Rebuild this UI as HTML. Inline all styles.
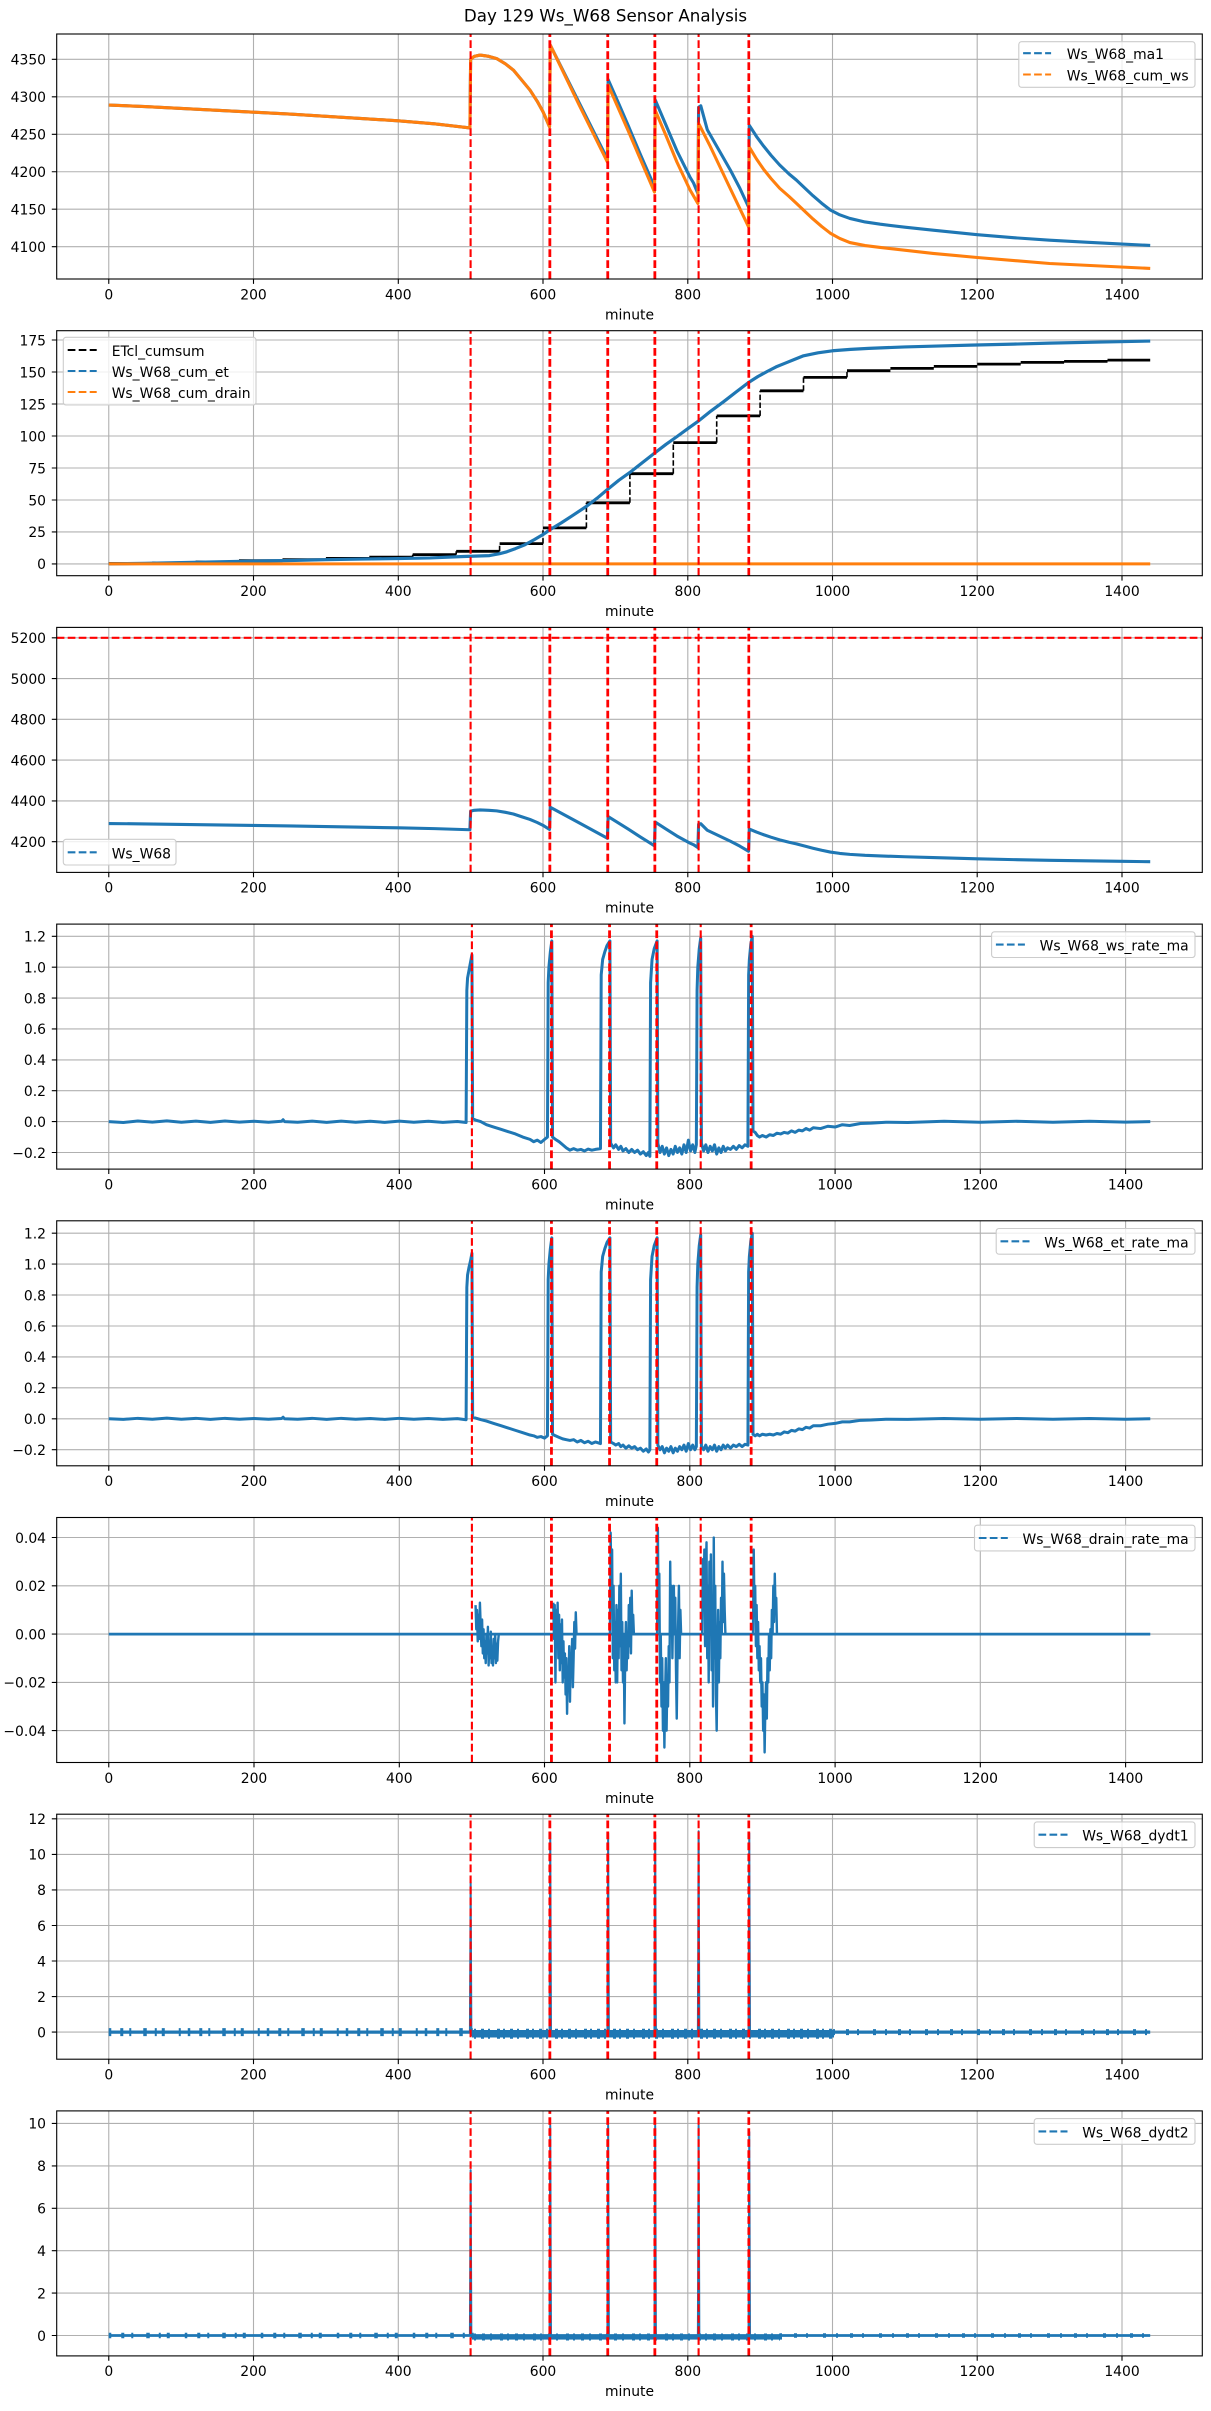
<!DOCTYPE html>
<html><head><meta charset="utf-8"><style>
html,body{margin:0;padding:0;background:#fff;}
svg{display:block}
text{font-family:"DejaVu Sans","Liberation Sans",sans-serif;font-size:13.9px;fill:#000}
.grid{stroke:#b0b0b0;stroke-width:1.1;fill:none}
.frame{fill:none;stroke:#000;stroke-width:1.1}
.tk{stroke:#000;stroke-width:1.1;fill:none}
.rv{stroke:#ff0000;stroke-width:2.1;stroke-dasharray:7.7 3.3;fill:none}
.yl{text-anchor:end}
.xl{text-anchor:middle}
.lg{fill:#fff;fill-opacity:.8;stroke:#cccccc;stroke-width:1.1}
.lh{stroke-width:2.1;stroke-dasharray:7.7 3.3;fill:none}
</style></head><body>
<svg width="1211" height="2411" viewBox="0 0 1211 2411" xmlns="http://www.w3.org/2000/svg">
<rect x="0" y="0" width="1211" height="2411" fill="#fff"/>
<text x="605.5" y="21.7" style="font-size:16.7px" text-anchor="middle">Day 129 Ws_W68 Sensor Analysis</text>

<!-- ========== PANEL 1 ========== -->
<path class="grid" d="M108.77 34V279M253.5 34V279M398.3 34V279M543 34V279M687.8 34V279M832.5 34V279M977.2 34V279M1122 34V279M56.7 246.7H1202.3M56.7 209.2H1202.3M56.7 171.75H1202.3M56.7 134.3H1202.3M56.7 96.8H1202.3M56.7 59.3H1202.3"/>
<g transform="matrix(0.72373 0 0 -0.7495 108.77 3319.65)">
<path vector-effect="non-scaling-stroke" fill="none" stroke="#1f77b4" stroke-width="3.1" stroke-linejoin="round" d="M0 4289 L50 4287 L100 4284.5 L150 4282 L200 4279.5 L250 4277 L300 4274 L350 4271 L400 4268 L450 4264 L499 4258.5 L500 4350 L505 4354 L513 4355.7 L525 4354 L536 4351 L548 4344 L559 4335.7 L570 4323 L582 4309 L592 4294 L600 4280 L609 4260 L610 4369 L650 4292 L689 4217 L690 4323 L705 4290 L718 4261 L735 4222 L745 4200 L754 4180 L755 4296 L770 4262 L785 4228 L803 4193 L808 4185 L814 4171 L815 4286 L818 4288 L827 4256 L843 4229 L859 4202 L872 4178 L884 4153 L885 4262 L895 4247 L905 4234 L915 4222 L927 4209 L940 4197 L950 4189 L962 4178 L973 4168 L985 4158 L997 4149 L1010 4142.5 L1024 4137.7 L1045 4133 L1066 4130 L1100 4126 L1139 4122 L1200 4116 L1250 4112 L1300 4108.7 L1350 4106 L1400 4103.5 L1439 4101.7"/>
<path vector-effect="non-scaling-stroke" fill="none" stroke="#ff7f0e" stroke-width="3.1" stroke-linejoin="round" d="M0 4289 L50 4287 L100 4284.5 L150 4282 L200 4279.5 L250 4277 L300 4274 L350 4271 L400 4268 L450 4264 L499 4258.5 L500 4350 L505 4354 L513 4355.7 L525 4354 L536 4351 L548 4344 L559 4335.7 L570 4323 L582 4309 L592 4294 L600 4280 L609 4260 L610 4369 L650 4289 L689 4213 L690 4315.7 L718 4254 L754 4173 L755 4282 L770 4248 L785 4213 L803 4176 L814 4157.7 L815 4264.5 L830 4236 L859 4177 L884 4126.5 L885 4233 L895 4217 L905 4203 L915 4191 L927 4178 L940 4167 L950 4158 L962 4147 L973 4137 L985 4127 L997 4118 L1010 4111 L1024 4105.5 L1045 4101.5 L1066 4099 L1139 4091 L1200 4085.6 L1300 4077.6 L1439 4071"/>
</g>
<path class="rv" d="M470.6 279V34M549.5 279V34M550.2 279V34M607.4 279V34M608.1 279V34M654.5 279V34M655.2 279V34M698.6 279V34M748.5 279V34M749.1 279V34"/>
<rect class="frame" x="56.7" y="34" width="1145.6" height="245"/>
<path class="tk" d="M108.77 279v4.9M253.5 279v4.9M398.3 279v4.9M543 279v4.9M687.8 279v4.9M832.5 279v4.9M977.2 279v4.9M1122 279v4.9M56.7 246.7h-4.9M56.7 209.2h-4.9M56.7 171.75h-4.9M56.7 134.3h-4.9M56.7 96.8h-4.9M56.7 59.3h-4.9"/>
<g class="yl"><text x="46" y="252">4100</text><text x="46" y="214.5">4150</text><text x="46" y="177">4200</text><text x="46" y="139.6">4250</text><text x="46" y="102.1">4300</text><text x="46" y="64.6">4350</text></g>
<g class="xl"><text x="108.77" y="299.3">0</text><text x="253.5" y="299.3">200</text><text x="398.3" y="299.3">400</text><text x="543" y="299.3">600</text><text x="687.8" y="299.3">800</text><text x="832.5" y="299.3">1000</text><text x="977.2" y="299.3">1200</text><text x="1122" y="299.3">1400</text><text x="629.5" y="319.3">minute</text></g>
<rect class="lg" x="1018.8" y="41.7" width="176.2" height="45.6" rx="2.8"/>
<path class="lh" stroke="#1f77b4" d="M1023.1 53.2H1051.1"/>
<path class="lh" stroke="#ff7f0e" d="M1023.1 74.5H1051.1"/>
<text x="1066.8" y="59.2">Ws_W68_ma1</text>
<text x="1066.8" y="80.5">Ws_W68_cum_ws</text>

<!-- ========== PANEL 2 ========== -->
<path class="grid" d="M108.77 330.7V575.7M253.5 330.7V575.7M398.3 330.7V575.7M543 330.7V575.7M687.8 330.7V575.7M832.5 330.7V575.7M977.2 330.7V575.7M1122 330.7V575.7M56.7 563.9H1202.3M56.7 531.9H1202.3M56.7 500H1202.3M56.7 468H1202.3M56.7 436H1202.3M56.7 404H1202.3M56.7 372H1202.3M56.7 340H1202.3"/>
<path fill="none" stroke="#000" stroke-width="2.8" d="M108.77 563.55H152.2M152.2 562.9H195.6M195.6 561.9H239M239 560.7H282.5M282.5 559.6H325.9M325.9 558.4H369.3M369.3 557.2H412.7M412.7 554.6H456.2M456.2 551.3H499.6M499.6 543.6H543M543 527.9H586.4M586.4 502.8H629.9M629.9 473.7H673.3M673.3 442.6H716.7M716.7 415.9H760.1M760.1 390.8H803.5M803.5 377.4H847M847 370.7H890.4M890.4 368.4H933.8M933.8 366.4H977.2M977.2 364.1H1020.7M1020.7 362.4H1064.1M1064.1 361.4H1107.5M1107.5 360.1H1150.2"/>
<path fill="none" stroke="#000" stroke-width="1.6" stroke-dasharray="5.5 2.4" d="M412.7 557.2V554.6M456.2 554.6V551.3M499.6 551.3V543.6M543 543.6V527.9M586.4 527.9V502.8M629.9 502.8V473.7M673.3 473.7V442.6M716.7 442.6V415.9M760.1 415.9V390.8M803.5 390.8V377.4M847 377.4V370.7"/>
<g transform="matrix(0.72373 0 0 -1.2794 108.77 563.93)">
<path vector-effect="non-scaling-stroke" fill="none" stroke="#1f77b4" stroke-width="3.2" stroke-linejoin="round" d="M0 0 L50 0.5 L100 1 L150 1.6 L200 2.2 L250 2.7 L300 3.3 L350 3.8 L400 4.2 L444 4.7 L490 5.8 L526 6.5 L540 8 L550 9.5 L562 12 L575 15 L588 19 L600 23 L610 26.9 L625 32 L640 37.5 L660 45 L675 51.5 L689 58.2 L705 65.5 L720 71.5 L738 79.5 L755 87 L770 93.5 L785 99.5 L800 105.7 L815 111.8 L832 119.5 L850 127 L867 134.5 L884 141.8 L897 146.5 L910 150.5 L922 154 L935 157 L948 160 L960 162.7 L980 165 L1000 166.6 L1025 167.7 L1050 168.5 L1100 169.6 L1150 170.4 L1191 171 L1250 171.8 L1300 172.6 L1370 173.4 L1439 174.2"/>
<path vector-effect="non-scaling-stroke" fill="none" stroke="#ff7f0e" stroke-width="3" d="M0 0 H1439"/>
</g>
<path class="rv" d="M470.6 575.7V330.7M549.5 575.7V330.7M550.2 575.7V330.7M607.4 575.7V330.7M608.1 575.7V330.7M654.5 575.7V330.7M655.2 575.7V330.7M698.6 575.7V330.7M748.5 575.7V330.7M749.1 575.7V330.7"/>
<rect class="frame" x="56.7" y="330.7" width="1145.6" height="245"/>
<path class="tk" d="M108.77 575.7v4.9M253.5 575.7v4.9M398.3 575.7v4.9M543 575.7v4.9M687.8 575.7v4.9M832.5 575.7v4.9M977.2 575.7v4.9M1122 575.7v4.9M56.7 563.9h-4.9M56.7 531.9h-4.9M56.7 500h-4.9M56.7 468h-4.9M56.7 436h-4.9M56.7 404h-4.9M56.7 372h-4.9M56.7 340h-4.9"/>
<g class="yl"><text x="46" y="569.2">0</text><text x="46" y="537.2">25</text><text x="46" y="505.3">50</text><text x="46" y="473.3">75</text><text x="46" y="441.3">100</text><text x="46" y="409.3">125</text><text x="46" y="377.3">150</text><text x="46" y="345.3">175</text></g>
<g class="xl"><text x="108.77" y="596">0</text><text x="253.5" y="596">200</text><text x="398.3" y="596">400</text><text x="543" y="596">600</text><text x="687.8" y="596">800</text><text x="832.5" y="596">1000</text><text x="977.2" y="596">1200</text><text x="1122" y="596">1400</text><text x="629.5" y="616">minute</text></g>
<rect class="lg" x="63.3" y="337.3" width="192.7" height="67.7" rx="2.8"/>
<path class="lh" stroke="#000" d="M67.7 350H96.7"/>
<path class="lh" stroke="#1f77b4" d="M67.7 371H96.7"/>
<path class="lh" stroke="#ff7f0e" d="M67.7 392H96.7"/>
<text x="111.7" y="356">ETcl_cumsum</text>
<text x="111.7" y="377">Ws_W68_cum_et</text>
<text x="111.7" y="398">Ws_W68_cum_drain</text>

<!-- ========== PANEL 3 ========== -->
<path class="grid" d="M108.77 627.4V872.4M253.5 627.4V872.4M398.3 627.4V872.4M543 627.4V872.4M687.8 627.4V872.4M832.5 627.4V872.4M977.2 627.4V872.4M1122 627.4V872.4M56.7 841.7H1202.3M56.7 800.9H1202.3M56.7 760.1H1202.3M56.7 719.3H1202.3M56.7 678.6H1202.3M56.7 637.8H1202.3"/>
<g transform="matrix(0.72373 0 0 -0.20388 108.77 1697.97)">
<path vector-effect="non-scaling-stroke" fill="none" stroke="#1f77b4" stroke-width="3.1" stroke-linejoin="round" d="M0 4289 L50 4287 L100 4284.5 L150 4282 L200 4279.5 L250 4277 L300 4274 L350 4271 L400 4268 L450 4264 L499 4258.5 L500 4350 L505 4354 L513 4355.7 L525 4354 L536 4351 L548 4344 L559 4335.7 L570 4323 L582 4309 L592 4294 L600 4280 L609 4260 L610 4369 L650 4292 L689 4217 L690 4323 L705 4290 L718 4261 L735 4222 L745 4200 L754 4180 L755 4296 L770 4262 L785 4228 L803 4193 L808 4185 L814 4171 L815 4286 L818 4288 L827 4256 L843 4229 L859 4202 L872 4178 L884 4153 L885 4262 L895 4247 L905 4234 L915 4222 L927 4209 L940 4197 L950 4189 L962 4178 L973 4168 L985 4158 L997 4149 L1010 4142.5 L1024 4137.7 L1045 4133 L1066 4130 L1100 4126 L1139 4122 L1200 4116 L1250 4112 L1300 4108.7 L1350 4106 L1400 4103.5 L1439 4101.7"/>
</g>
<path class="rv" d="M56.7 637.8H1202.3"/>
<path class="rv" d="M470.6 872.4V627.4M549.5 872.4V627.4M550.2 872.4V627.4M607.4 872.4V627.4M608.1 872.4V627.4M654.5 872.4V627.4M655.2 872.4V627.4M698.6 872.4V627.4M748.5 872.4V627.4M749.1 872.4V627.4"/>
<rect class="frame" x="56.7" y="627.4" width="1145.6" height="245"/>
<path class="tk" d="M108.77 872.4v4.9M253.5 872.4v4.9M398.3 872.4v4.9M543 872.4v4.9M687.8 872.4v4.9M832.5 872.4v4.9M977.2 872.4v4.9M1122 872.4v4.9M56.7 841.7h-4.9M56.7 800.9h-4.9M56.7 760.1h-4.9M56.7 719.3h-4.9M56.7 678.6h-4.9M56.7 637.8h-4.9"/>
<g class="yl"><text x="46" y="847">4200</text><text x="46" y="806.2">4400</text><text x="46" y="765.4">4600</text><text x="46" y="724.6">4800</text><text x="46" y="683.9">5000</text><text x="46" y="643.1">5200</text></g>
<g class="xl"><text x="108.77" y="892.7">0</text><text x="253.5" y="892.7">200</text><text x="398.3" y="892.7">400</text><text x="543" y="892.7">600</text><text x="687.8" y="892.7">800</text><text x="832.5" y="892.7">1000</text><text x="977.2" y="892.7">1200</text><text x="1122" y="892.7">1400</text><text x="629.5" y="912.7">minute</text></g>
<rect class="lg" x="63.3" y="839.3" width="112.7" height="25.7" rx="2.8"/>
<path class="lh" stroke="#1f77b4" d="M67.7 852.3H96.7"/>
<text x="111.7" y="858.3">Ws_W68</text>

<!-- ========== PANEL 4 ========== -->
<path class="grid" d="M108.77 924.1V1169.1M254 924.1V1169.1M399.3 924.1V1169.1M544.5 924.1V1169.1M689.8 924.1V1169.1M835.1 924.1V1169.1M980.3 924.1V1169.1M1125.6 924.1V1169.1M56.7 1152.5H1202.3M56.7 1121.6H1202.3M56.7 1090.7H1202.3M56.7 1059.9H1202.3M56.7 1028.9H1202.3M56.7 998.1H1202.3M56.7 967.2H1202.3M56.7 936.3H1202.3"/>
<g transform="matrix(0.7263 0 0 -154.43 108.77 1121.61)">
<path vector-effect="non-scaling-stroke" fill="none" stroke="#1f77b4" stroke-width="3" stroke-linejoin="round" d="M0 0 L20 -0.006 L40 0.004 L60 -0.003 L80 0.005 L100 -0.004 L120 0.003 L140 -0.005 L160 0.004 L180 -0.003 L200 0.002 L220 -0.004 L238 0.002 L240 0.012 L242 0 L260 -0.004 L280 0.003 L300 -0.005 L320 0.003 L340 -0.004 L360 0.002 L380 -0.005 L400 0.003 L420 -0.004 L440 0.002 L460 -0.005 L480 0.001 L492 -0.006 L493 0.85 L494 0.93 L496 0.98 L498 1.03 L500 1.08 L501 0.02 L505 0.01 L512 0 L520 -0.02 L530 -0.035 L540 -0.05 L550 -0.065 L560 -0.08 L570 -0.1 L580 -0.115 L585 -0.13 L590 -0.12 L595 -0.135 L600 -0.115 L604 -0.1 L605 0.9 L606 1.0 L608 1.1 L610 1.17 L611 -0.1 L615 -0.115 L620 -0.13 L625 -0.15 L630 -0.17 L635 -0.185 L640 -0.175 L645 -0.185 L650 -0.18 L655 -0.19 L660 -0.178 L665 -0.185 L670 -0.18 L677 -0.175 L678 0.95 L680 1.05 L683 1.1 L686 1.14 L690 1.17 L691 -0.14 L695 -0.17 L698 -0.15 L702 -0.18 L705 -0.16 L708 -0.19 L712 -0.175 L716 -0.2 L720 -0.18 L724 -0.2 L728 -0.185 L732 -0.21 L736 -0.195 L740 -0.22 L743 -0.2 L745 -0.225 L746 0.9 L748 1.05 L751 1.12 L755 1.17 L756 -0.14 L759 -0.2 L762 -0.16 L765 -0.21 L768 -0.17 L771 -0.22 L774 -0.18 L777 -0.21 L780 -0.16 L783 -0.2 L786 -0.17 L789 -0.21 L792 -0.15 L795 -0.2 L798 -0.12 L801 -0.19 L804 -0.15 L807 -0.2 L809 -0.15 L810 0.85 L811 1.0 L813 1.12 L815 1.19 L816 -0.14 L819 -0.19 L822 -0.15 L825 -0.2 L828 -0.16 L831 -0.19 L834 -0.15 L837 -0.21 L840 -0.17 L843 -0.2 L846 -0.16 L849 -0.19 L852 -0.17 L856 -0.18 L860 -0.16 L864 -0.18 L868 -0.155 L872 -0.17 L876 -0.15 L880 -0.16 L881 0.95 L882 1.05 L884 1.15 L886 1.2 L887 -0.06 L890 -0.07 L893 -0.09 L896 -0.1 L900 -0.09 L905 -0.1 L910 -0.085 L915 -0.09 L920 -0.075 L925 -0.08 L930 -0.07 L935 -0.075 L940 -0.06 L945 -0.07 L950 -0.055 L955 -0.06 L960 -0.045 L965 -0.055 L970 -0.04 L980 -0.045 L990 -0.03 L1000 -0.035 L1010 -0.02 L1020 -0.025 L1035 -0.012 L1050 -0.01 L1070 -0.004 L1100 -0.006 L1150 0.002 L1200 -0.004 L1250 0.002 L1300 -0.004 L1350 0.002 L1400 -0.003 L1434 0"/>
</g>
<path class="rv" d="M471.9 1169.1V924.1M551.1 1169.1V924.1M551.8 1169.1V924.1M609.2 1169.1V924.1M609.9 1169.1V924.1M656.4 1169.1V924.1M657.1 1169.1V924.1M700.7 1169.1V924.1M750.8 1169.1V924.1M751.5 1169.1V924.1"/>
<rect class="frame" x="56.7" y="924.1" width="1145.6" height="245"/>
<path class="tk" d="M108.77 1169.1v4.9M254 1169.1v4.9M399.3 1169.1v4.9M544.5 1169.1v4.9M689.8 1169.1v4.9M835.1 1169.1v4.9M980.3 1169.1v4.9M1125.6 1169.1v4.9M56.7 1152.5h-4.9M56.7 1121.6h-4.9M56.7 1090.7h-4.9M56.7 1059.9h-4.9M56.7 1028.9h-4.9M56.7 998.1h-4.9M56.7 967.2h-4.9M56.7 936.3h-4.9"/>
<g class="yl"><text x="46" y="1157.8">−0.2</text><text x="46" y="1126.9">0.0</text><text x="46" y="1096">0.2</text><text x="46" y="1065.2">0.4</text><text x="46" y="1034.2">0.6</text><text x="46" y="1003.4">0.8</text><text x="46" y="972.5">1.0</text><text x="46" y="941.6">1.2</text></g>
<g class="xl"><text x="108.77" y="1189.4">0</text><text x="254" y="1189.4">200</text><text x="399.3" y="1189.4">400</text><text x="544.5" y="1189.4">600</text><text x="689.8" y="1189.4">800</text><text x="835.1" y="1189.4">1000</text><text x="980.3" y="1189.4">1200</text><text x="1125.6" y="1189.4">1400</text><text x="629.5" y="1209.4">minute</text></g>
<rect class="lg" x="991.6" y="931.8" width="203.4" height="25.7" rx="2.8"/>
<path class="lh" stroke="#1f77b4" d="M995.9 944.6H1024.9"/>
<text x="1039.6" y="950.6">Ws_W68_ws_rate_ma</text>

<!-- ========== PANEL 5 ========== -->
<path class="grid" d="M108.77 1220.8V1465.8M254 1220.8V1465.8M399.3 1220.8V1465.8M544.5 1220.8V1465.8M689.8 1220.8V1465.8M835.1 1220.8V1465.8M980.3 1220.8V1465.8M1125.6 1220.8V1465.8M56.7 1449.7H1202.3M56.7 1418.8H1202.3M56.7 1387.8H1202.3M56.7 1356.9H1202.3M56.7 1326H1202.3M56.7 1295H1202.3M56.7 1264.1H1202.3M56.7 1233.2H1202.3"/>
<g transform="matrix(0.7263 0 0 -154.67 108.77 1418.78)">
<path vector-effect="non-scaling-stroke" fill="none" stroke="#1f77b4" stroke-width="3" stroke-linejoin="round" d="M0 0 L20 -0.004 L40 0.003 L60 -0.003 L80 0.004 L100 -0.003 L120 0.003 L140 -0.004 L160 0.003 L180 -0.003 L200 0.002 L220 -0.003 L238 0.002 L240 0.01 L242 0 L260 -0.003 L280 0.003 L300 -0.004 L320 0.003 L340 -0.003 L360 0.002 L380 -0.004 L400 0.003 L420 -0.003 L440 0.002 L460 -0.004 L480 0.001 L492 -0.006 L493 0.85 L494 0.93 L496 0.98 L498 1.02 L500 1.07 L501 0.01 L505 0.005 L512 -0.005 L520 -0.015 L530 -0.03 L540 -0.045 L550 -0.06 L560 -0.075 L570 -0.09 L580 -0.105 L585 -0.11 L590 -0.12 L595 -0.115 L600 -0.125 L604 -0.11 L605 0.9 L606 1.0 L608 1.1 L610 1.17 L611 -0.1 L615 -0.11 L620 -0.12 L625 -0.13 L630 -0.135 L635 -0.14 L640 -0.135 L645 -0.15 L650 -0.14 L655 -0.155 L660 -0.145 L665 -0.16 L670 -0.15 L677 -0.16 L678 0.95 L680 1.05 L683 1.1 L686 1.14 L690 1.17 L691 -0.15 L695 -0.16 L698 -0.17 L702 -0.16 L705 -0.18 L708 -0.17 L712 -0.19 L716 -0.175 L720 -0.19 L724 -0.18 L728 -0.2 L732 -0.19 L736 -0.21 L740 -0.195 L743 -0.215 L745 -0.2 L746 0.9 L748 1.05 L751 1.12 L755 1.17 L756 -0.17 L759 -0.2 L762 -0.18 L765 -0.22 L768 -0.19 L771 -0.21 L774 -0.18 L777 -0.22 L780 -0.19 L783 -0.21 L786 -0.18 L789 -0.2 L792 -0.17 L795 -0.21 L798 -0.16 L801 -0.2 L804 -0.17 L807 -0.2 L809 -0.18 L810 0.85 L811 1.0 L813 1.12 L815 1.19 L816 -0.18 L819 -0.2 L822 -0.17 L825 -0.21 L828 -0.18 L831 -0.2 L834 -0.17 L837 -0.21 L840 -0.18 L843 -0.2 L846 -0.17 L849 -0.19 L852 -0.17 L856 -0.19 L860 -0.17 L864 -0.18 L868 -0.165 L872 -0.18 L876 -0.165 L880 -0.17 L881 0.95 L882 1.05 L884 1.15 L886 1.2 L887 -0.1 L890 -0.11 L893 -0.1 L896 -0.11 L900 -0.1 L905 -0.105 L910 -0.1 L915 -0.105 L920 -0.095 L925 -0.1 L930 -0.085 L935 -0.09 L940 -0.075 L945 -0.08 L950 -0.065 L955 -0.07 L960 -0.055 L965 -0.06 L970 -0.045 L980 -0.045 L990 -0.035 L1000 -0.03 L1010 -0.02 L1020 -0.02 L1035 -0.01 L1050 -0.008 L1070 -0.003 L1100 -0.004 L1150 0.002 L1200 -0.003 L1250 0.002 L1300 -0.003 L1350 0.002 L1400 -0.003 L1434 0"/>
</g>
<path class="rv" d="M471.9 1465.8V1220.8M551.1 1465.8V1220.8M551.8 1465.8V1220.8M609.2 1465.8V1220.8M609.9 1465.8V1220.8M656.4 1465.8V1220.8M657.1 1465.8V1220.8M700.7 1465.8V1220.8M750.8 1465.8V1220.8M751.5 1465.8V1220.8"/>
<rect class="frame" x="56.7" y="1220.8" width="1145.6" height="245"/>
<path class="tk" d="M108.77 1465.8v4.9M254 1465.8v4.9M399.3 1465.8v4.9M544.5 1465.8v4.9M689.8 1465.8v4.9M835.1 1465.8v4.9M980.3 1465.8v4.9M1125.6 1465.8v4.9M56.7 1449.7h-4.9M56.7 1418.8h-4.9M56.7 1387.8h-4.9M56.7 1356.9h-4.9M56.7 1326h-4.9M56.7 1295h-4.9M56.7 1264.1h-4.9M56.7 1233.2h-4.9"/>
<g class="yl"><text x="46" y="1455">−0.2</text><text x="46" y="1424.1">0.0</text><text x="46" y="1393.1">0.2</text><text x="46" y="1362.2">0.4</text><text x="46" y="1331.3">0.6</text><text x="46" y="1300.3">0.8</text><text x="46" y="1269.4">1.0</text><text x="46" y="1238.5">1.2</text></g>
<g class="xl"><text x="108.77" y="1486.1">0</text><text x="254" y="1486.1">200</text><text x="399.3" y="1486.1">400</text><text x="544.5" y="1486.1">600</text><text x="689.8" y="1486.1">800</text><text x="835.1" y="1486.1">1000</text><text x="980.3" y="1486.1">1200</text><text x="1125.6" y="1486.1">1400</text><text x="629.5" y="1506.1">minute</text></g>
<rect class="lg" x="996.2" y="1228.5" width="198.8" height="25.7" rx="2.8"/>
<path class="lh" stroke="#1f77b4" d="M1000.5 1241.3H1029.5"/>
<text x="1044.2" y="1247.3">Ws_W68_et_rate_ma</text>

<!-- ========== PANEL 6 ========== -->
<path class="grid" d="M108.77 1517.5V1762.5M254 1517.5V1762.5M399.3 1517.5V1762.5M544.5 1517.5V1762.5M689.8 1517.5V1762.5M835.1 1517.5V1762.5M980.3 1517.5V1762.5M1125.6 1517.5V1762.5M56.7 1730.6H1202.3M56.7 1682.4H1202.3M56.7 1634.1H1202.3M56.7 1585.8H1202.3M56.7 1537.5H1202.3"/>
<g transform="matrix(0.7263 0 0 -2413.8 108.77 1634.09)" fill="none" stroke="#1f77b4">
<path vector-effect="non-scaling-stroke" stroke-width="2.8" d="M0 0 H1434"/>
<path vector-effect="non-scaling-stroke" stroke-width="2.4" stroke-linejoin="round" d="M505 0.012 L506 0.002 L507 0.01 L508 -0.003 L509 0.008 L510 -0.002 L511 0.013 L512 0.004 L513 -0.005 L514 0.006 L515 -0.008 L516 0.002 L517 -0.01 L518 -0.003 L519 -0.012 L520 0 L521 -0.008 L522 0.003 L523 -0.013 L524 -0.004 L525 -0.01 L526 0.001 L527 -0.012 L528 -0.006 L529 -0.013 L530 -0.002 L531 -0.01 L532 0 L533 -0.012 L534 -0.004 L535 -0.011 L536 -0.003 L537 0"/>
<path vector-effect="non-scaling-stroke" stroke-width="2.4" stroke-linejoin="round" d="M612 0.013 L613 -0.002 L614 0.012 L615 -0.02 L616 0.01 L617 -0.005 L618 0.013 L619 -0.01 L620 0.008 L621 -0.015 L622 0.004 L623 -0.012 L624 0.006 L625 -0.02 L626 -0.003 L627 -0.018 L628 -0.008 L629 -0.025 L630 -0.01 L631 -0.033 L632 -0.015 L633 -0.02 L634 -0.005 L635 -0.028 L636 -0.008 L637 -0.012 L638 -0.002 L639 -0.022 L640 -0.01 L641 0.005 L642 -0.006 L643 0.009 L644 0"/>
<path vector-effect="non-scaling-stroke" stroke-width="2.4" stroke-linejoin="round" d="M690 0 L691 0.042 L692 0.02 L693 0.035 L694 -0.01 L695 0.02 L696 -0.015 L697 0.005 L698 -0.02 L699 0.012 L700 -0.02 L701 0.01 L702 -0.01 L703 0.02 L704 -0.005 L705 0.025 L706 -0.015 L707 0.005 L708 -0.02 L709 0 L710 -0.037 L711 -0.01 L712 0.005 L713 -0.015 L714 0 L715 -0.01 L716 0.012 L717 -0.005 L718 0.015 L719 -0.008 L720 0.018 L721 0 L722 0.008 L723 0"/>
<path vector-effect="non-scaling-stroke" stroke-width="2.4" stroke-linejoin="round" d="M755 0 L756 0.044 L757 0.01 L758 0.025 L759 -0.02 L760 0 L761 -0.03 L762 -0.01 L763 -0.04 L764 -0.02 L765 -0.047 L766 -0.025 L767 -0.01 L768 -0.04 L769 -0.02 L770 -0.03 L771 -0.005 L772 -0.02 L773 0.03 L774 0 L775 0.02 L776 -0.01 L777 0.01 L778 0.02 L779 0 L780 0.015 L781 -0.015 L782 -0.035 L783 -0.01 L784 0.005 L785 0.02 L786 -0.01 L787 0.01 L788 0"/>
<path vector-effect="non-scaling-stroke" stroke-width="2.4" stroke-linejoin="round" d="M817 0 L818 0.031 L819 0.01 L820 0.035 L821 -0.005 L822 0.025 L823 0.038 L824 -0.01 L825 0.02 L826 -0.02 L827 0.03 L828 0 L829 0.033 L830 -0.015 L831 0.015 L832 -0.03 L833 0.04 L834 -0.01 L835 0.02 L836 -0.025 L837 -0.04 L838 -0.01 L839 0.01 L840 -0.02 L841 0.005 L842 -0.01 L843 0.015 L844 0 L845 0.03 L846 0.005 L847 0.025 L848 0.01 L849 0"/>
<path vector-effect="non-scaling-stroke" stroke-width="2.4" stroke-linejoin="round" d="M887 0 L888 0.035 L889 0.01 L890 0.02 L891 -0.005 L892 0.012 L893 -0.01 L894 0.005 L895 -0.015 L896 -0.005 L897 -0.02 L898 -0.01 L899 -0.03 L900 -0.02 L901 -0.04 L902 -0.025 L903 -0.049 L904 -0.03 L905 -0.02 L906 -0.035 L907 -0.01 L908 -0.02 L909 0 L910 -0.015 L911 0.002 L912 -0.01 L913 0.01 L914 0 L915 0.02 L916 0.005 L917 0.025 L918 0.01 L919 0.015 L920 0"/>
</g>
<path class="rv" d="M471.9 1762.5V1517.5M551.1 1762.5V1517.5M551.8 1762.5V1517.5M609.2 1762.5V1517.5M609.9 1762.5V1517.5M656.4 1762.5V1517.5M657.1 1762.5V1517.5M700.7 1762.5V1517.5M750.8 1762.5V1517.5M751.5 1762.5V1517.5"/>
<rect class="frame" x="56.7" y="1517.5" width="1145.6" height="245"/>
<path class="tk" d="M108.77 1762.5v4.9M254 1762.5v4.9M399.3 1762.5v4.9M544.5 1762.5v4.9M689.8 1762.5v4.9M835.1 1762.5v4.9M980.3 1762.5v4.9M1125.6 1762.5v4.9M56.7 1730.6h-4.9M56.7 1682.4h-4.9M56.7 1634.1h-4.9M56.7 1585.8h-4.9M56.7 1537.5h-4.9"/>
<g class="yl"><text x="46" y="1735.9">−0.04</text><text x="46" y="1687.7">−0.02</text><text x="46" y="1639.4">0.00</text><text x="46" y="1591.1">0.02</text><text x="46" y="1542.8">0.04</text></g>
<g class="xl"><text x="108.77" y="1782.8">0</text><text x="254" y="1782.8">200</text><text x="399.3" y="1782.8">400</text><text x="544.5" y="1782.8">600</text><text x="689.8" y="1782.8">800</text><text x="835.1" y="1782.8">1000</text><text x="980.3" y="1782.8">1200</text><text x="1125.6" y="1782.8">1400</text><text x="629.5" y="1802.8">minute</text></g>
<rect class="lg" x="974.5" y="1525.2" width="220.5" height="25.7" rx="2.8"/>
<path class="lh" stroke="#1f77b4" d="M978.8 1538H1007.8"/>
<text x="1022.5" y="1544">Ws_W68_drain_rate_ma</text>

<!-- ========== PANEL 7 ========== -->
<path class="grid" d="M108.77 1814.2V2059.2M253.5 1814.2V2059.2M398.3 1814.2V2059.2M543 1814.2V2059.2M687.8 1814.2V2059.2M832.5 1814.2V2059.2M977.2 1814.2V2059.2M1122 1814.2V2059.2M56.7 2032.1H1202.3M56.7 1996.6H1202.3M56.7 1961H1202.3M56.7 1925.5H1202.3M56.7 1889.9H1202.3M56.7 1854.4H1202.3M56.7 1818.8H1202.3"/>
<path fill="none" stroke="#1f77b4" stroke-width="3.2" d="M108.77 2032.1H1150.2"/>
<path fill="none" stroke="#1f77b4" stroke-width="8" stroke-dasharray="2.5 9 3 6 2 12 3.5 8 2 5 3 14 2 7" d="M108.77 2032.1H474"/>
<path fill="none" stroke="#1f77b4" stroke-width="6" stroke-dasharray="2 11 3 8 2 14 3 9" d="M833 2032.1H1150.2"/>
<rect x="472" y="2030" width="362" height="7.5" fill="#1f77b4"/>
<path fill="none" stroke="#1f77b4" stroke-width="10" stroke-dasharray="2 5 3 4 2 7 3 3" d="M474 2033.8H833"/>
<g transform="matrix(0.72373 0 0 -17.773 108.77 2032.1)">
<path vector-effect="non-scaling-stroke" fill="none" stroke="#1f77b4" stroke-width="2" stroke-linejoin="round" d="M499 0 L500 8.4 L501 0 M609 0 L610 11.2 L611 0 M689 0 L690 11.2 L691 0 M754 0 L755 11.1 L756 0 M814 0 L815 11.3 L816 0 M884 0 L885 11.2 L886 0"/>
</g>
<path class="rv" d="M470.6 2059.2V1814.2M549.5 2059.2V1814.2M550.2 2059.2V1814.2M607.4 2059.2V1814.2M608.1 2059.2V1814.2M654.5 2059.2V1814.2M655.2 2059.2V1814.2M698.6 2059.2V1814.2M748.5 2059.2V1814.2M749.1 2059.2V1814.2"/>
<rect class="frame" x="56.7" y="1814.2" width="1145.6" height="245"/>
<path class="tk" d="M108.77 2059.2v4.9M253.5 2059.2v4.9M398.3 2059.2v4.9M543 2059.2v4.9M687.8 2059.2v4.9M832.5 2059.2v4.9M977.2 2059.2v4.9M1122 2059.2v4.9M56.7 2032.1h-4.9M56.7 1996.6h-4.9M56.7 1961h-4.9M56.7 1925.5h-4.9M56.7 1889.9h-4.9M56.7 1854.4h-4.9M56.7 1818.8h-4.9"/>
<g class="yl"><text x="46" y="2037.4">0</text><text x="46" y="2001.9">2</text><text x="46" y="1966.3">4</text><text x="46" y="1930.8">6</text><text x="46" y="1895.2">8</text><text x="46" y="1859.7">10</text><text x="46" y="1824.1">12</text></g>
<g class="xl"><text x="108.77" y="2079.5">0</text><text x="253.5" y="2079.5">200</text><text x="398.3" y="2079.5">400</text><text x="543" y="2079.5">600</text><text x="687.8" y="2079.5">800</text><text x="832.5" y="2079.5">1000</text><text x="977.2" y="2079.5">1200</text><text x="1122" y="2079.5">1400</text><text x="629.5" y="2099.5">minute</text></g>
<rect class="lg" x="1034.2" y="1821.9" width="160.8" height="25.7" rx="2.8"/>
<path class="lh" stroke="#1f77b4" d="M1038.5 1834.7H1067.5"/>
<text x="1082.2" y="1840.7">Ws_W68_dydt1</text>

<!-- ========== PANEL 8 ========== -->
<path class="grid" d="M108.77 2110.9V2355.9M253.5 2110.9V2355.9M398.3 2110.9V2355.9M543 2110.9V2355.9M687.8 2110.9V2355.9M832.5 2110.9V2355.9M977.2 2110.9V2355.9M1122 2110.9V2355.9M56.7 2335.5H1202.3M56.7 2293.1H1202.3M56.7 2250.7H1202.3M56.7 2208.3H1202.3M56.7 2165.9H1202.3M56.7 2123.4H1202.3"/>
<path fill="none" stroke="#1f77b4" stroke-width="2.8" d="M108.77 2335.5H1150.2"/>
<path fill="none" stroke="#1f77b4" stroke-width="5.5" stroke-dasharray="2.5 10 3 7 2 13 3.5 9 2 6 3 15" d="M108.77 2335.5H474"/>
<path fill="none" stroke="#1f77b4" stroke-width="4.5" stroke-dasharray="2 12 3 9 2 15 3 10" d="M780 2335.5H1150.2"/>
<rect x="472" y="2334.6" width="310" height="5" fill="#1f77b4"/>
<path fill="none" stroke="#1f77b4" stroke-width="7" stroke-dasharray="2 6 3 5 2 8 3 4" d="M474 2337H780"/>
<g transform="matrix(0.72373 0 0 -21.21 108.77 2335.54)">
<path vector-effect="non-scaling-stroke" fill="none" stroke="#1f77b4" stroke-width="2" stroke-linejoin="round" d="M499 0 L500 7.8 L501 0 M609 0 L610 9.9 L611 0 M689 0 L690 9.9 L691 0 M754 0 L755 9.9 L756 0 M814 0 L815 9.9 L816 0 M884 0 L885 9.6 L886 0"/>
</g>
<path class="rv" d="M470.6 2355.9V2110.9M549.5 2355.9V2110.9M550.2 2355.9V2110.9M607.4 2355.9V2110.9M608.1 2355.9V2110.9M654.5 2355.9V2110.9M655.2 2355.9V2110.9M698.6 2355.9V2110.9M748.5 2355.9V2110.9M749.1 2355.9V2110.9"/>
<rect class="frame" x="56.7" y="2110.9" width="1145.6" height="245"/>
<path class="tk" d="M108.77 2355.9v4.9M253.5 2355.9v4.9M398.3 2355.9v4.9M543 2355.9v4.9M687.8 2355.9v4.9M832.5 2355.9v4.9M977.2 2355.9v4.9M1122 2355.9v4.9M56.7 2335.5h-4.9M56.7 2293.1h-4.9M56.7 2250.7h-4.9M56.7 2208.3h-4.9M56.7 2165.9h-4.9M56.7 2123.4h-4.9"/>
<g class="yl"><text x="46" y="2340.8">0</text><text x="46" y="2298.4">2</text><text x="46" y="2256">4</text><text x="46" y="2213.6">6</text><text x="46" y="2171.2">8</text><text x="46" y="2128.7">10</text></g>
<g class="xl"><text x="108.77" y="2376.2">0</text><text x="253.5" y="2376.2">200</text><text x="398.3" y="2376.2">400</text><text x="543" y="2376.2">600</text><text x="687.8" y="2376.2">800</text><text x="832.5" y="2376.2">1000</text><text x="977.2" y="2376.2">1200</text><text x="1122" y="2376.2">1400</text><text x="629.5" y="2396.2">minute</text></g>
<rect class="lg" x="1034.2" y="2118.6" width="160.8" height="25.7" rx="2.8"/>
<path class="lh" stroke="#1f77b4" d="M1038.5 2131.4H1067.5"/>
<text x="1082.2" y="2137.4">Ws_W68_dydt2</text>
</svg>
</body></html>
